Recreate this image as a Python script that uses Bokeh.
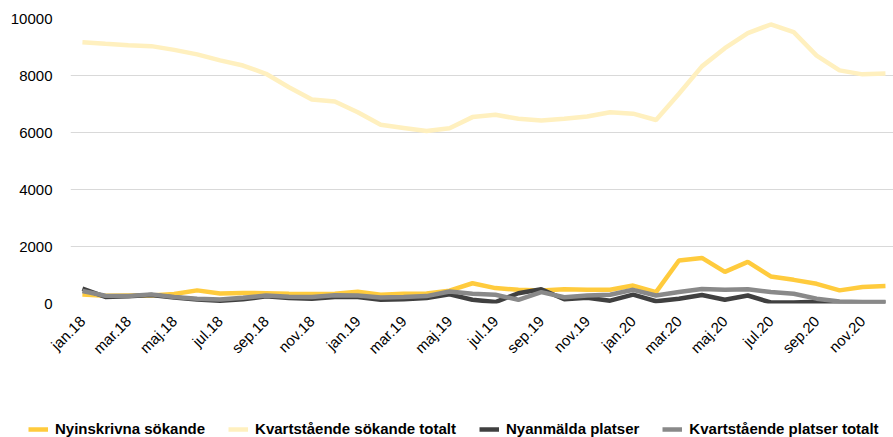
import math
from bokeh.plotting import figure
from bokeh.models import Range1d, FixedTicker, Legend, LegendItem, ColumnDataSource
from bokeh.embed import file_html
from bokeh.resources import INLINE

months = ["jan.18", "feb.18", "mar.18", "apr.18", "maj.18", "jun.18", "jul.18", "aug.18",
          "sep.18", "okt.18", "nov.18", "dec.18",
          "jan.19", "feb.19", "mar.19", "apr.19", "maj.19", "jun.19", "jul.19", "aug.19",
          "sep.19", "okt.19", "nov.19", "dec.19",
          "jan.20", "feb.20", "mar.20", "apr.20", "maj.20", "jun.20", "jul.20", "aug.20",
          "sep.20", "okt.20", "nov.20", "dec.20"]

nyinskrivna = [320, 270, 280, 280, 330, 460, 350, 370, 360, 340, 330, 340,
               410, 310, 340, 350, 450, 710, 540, 480, 460, 500, 480, 480,
               630, 400, 1510, 1600, 1110, 1460, 950, 830, 690, 460, 580, 610]
kvar_sokande = [9170, 9110, 9060, 9030, 8900, 8740, 8530, 8350, 8060, 7590, 7160, 7090,
                6710, 6270, 6160, 6050, 6150, 6540, 6620, 6480, 6420, 6480, 6560, 6710,
                6660, 6440, 7360, 8320, 8960, 9490, 9790, 9520, 8700, 8180, 8040, 8070]
nyanmalda = [520, 230, 250, 300, 210, 140, 100, 150, 250, 190, 170, 230,
             230, 130, 150, 190, 320, 130, 50, 360, 500, 150, 200, 100,
             310, 80, 170, 300, 130, 280, 35, 35, 60, 35, 30, 35]
kvar_platser = [440, 270, 260, 320, 230, 170, 140, 200, 280, 240, 230, 290,
                280, 210, 230, 260, 420, 340, 305, 130, 400, 220, 280, 305,
                480, 280, 400, 510, 480, 500, 400, 340, 170, 70, 50, 50]

series_names = ["Nyinskrivna sökande", "Kvartstående sökande totalt",
                "Nyanmälda platser", "Kvartstående platser totalt"]
y_ticks = [0, 2000, 4000, 6000, 8000, 10000]
colors = ["#FFCB3D", "#FFF0BF", "#404040", "#898989"]

src = ColumnDataSource(dict(x=list(range(len(months))), a=nyinskrivna, b=kvar_sokande,
                            c=nyanmalda, d=kvar_platser))
cols = ["a", "b", "c", "d"]

p = figure(width=893, height=414, output_backend="svg", toolbar_location=None,
           x_range=Range1d(-0.52, 35.35), y_range=Range1d(0, 10000),
           min_border_top=18, min_border_right=0, min_border_left=70, min_border_bottom=111)
p.outline_line_color = None
p.background_fill_color = "white"
p.border_fill_color = "white"
p.xgrid.grid_line_color = None
p.ygrid.grid_line_color = "#D9D9D9"
p.ygrid.grid_line_width = 1

p.yaxis.ticker = FixedTicker(ticks=y_ticks)
p.yaxis.axis_line_color = None
p.yaxis.major_tick_line_color = None
p.yaxis.minor_tick_line_color = None
p.yaxis.major_label_text_font = "Liberation Sans"
p.yaxis.major_label_text_font_size = "15px"
p.yaxis.major_label_text_color = "#000000"
p.yaxis.major_label_standoff = 12

p.xaxis.ticker = FixedTicker(ticks=list(range(0, len(months), 2)))
p.xaxis.major_label_overrides = {i: months[i] for i in range(0, len(months), 2)}
p.xaxis.axis_line_color = None
p.xaxis.major_tick_line_color = None
p.xaxis.minor_tick_line_color = None
p.xaxis.major_label_orientation = math.pi / 4
p.xaxis.major_label_text_font = "Liberation Sans"
p.xaxis.major_label_text_font_size = "15px"
p.xaxis.major_label_text_color = "#000000"
p.xaxis.major_label_standoff = 9

for c, col in zip(cols, colors):
    p.line("x", c, source=src, line_color=col, line_width=4.5)

# legend strip below the chart (series drawn again but outside its visible range)
lg = figure(width=893, height=23, output_backend="svg", toolbar_location=None,
            x_axis_type=None, y_axis_type=None,
            x_range=Range1d(-0.52, 35.35), y_range=Range1d(20000, 20001),
            min_border=0, min_border_left=0, min_border_right=0,
            min_border_top=0, min_border_bottom=0)
lg.outline_line_color = None
lg.background_fill_color = "white"
lg.border_fill_color = "white"
items = []
for name, c, col in zip(series_names, cols, colors):
    r = lg.line("x", c, source=src, line_color=col, line_width=4.5)
    items.append(LegendItem(label=name, renderers=[r]))
legend = Legend(items=items, orientation="horizontal", location=(28, 0),
                label_text_font="Liberation Sans", label_text_font_style="bold",
                label_text_font_size="15px", label_text_color="#000000",
                glyph_width=20, glyph_height=14, label_height=14,
                label_standoff=7, spacing=23, padding=0, margin=0,
                border_line_color=None, background_fill_alpha=0)
lg.add_layout(legend, "center")

open("out.html", "w").write(file_html([p, lg], INLINE))
